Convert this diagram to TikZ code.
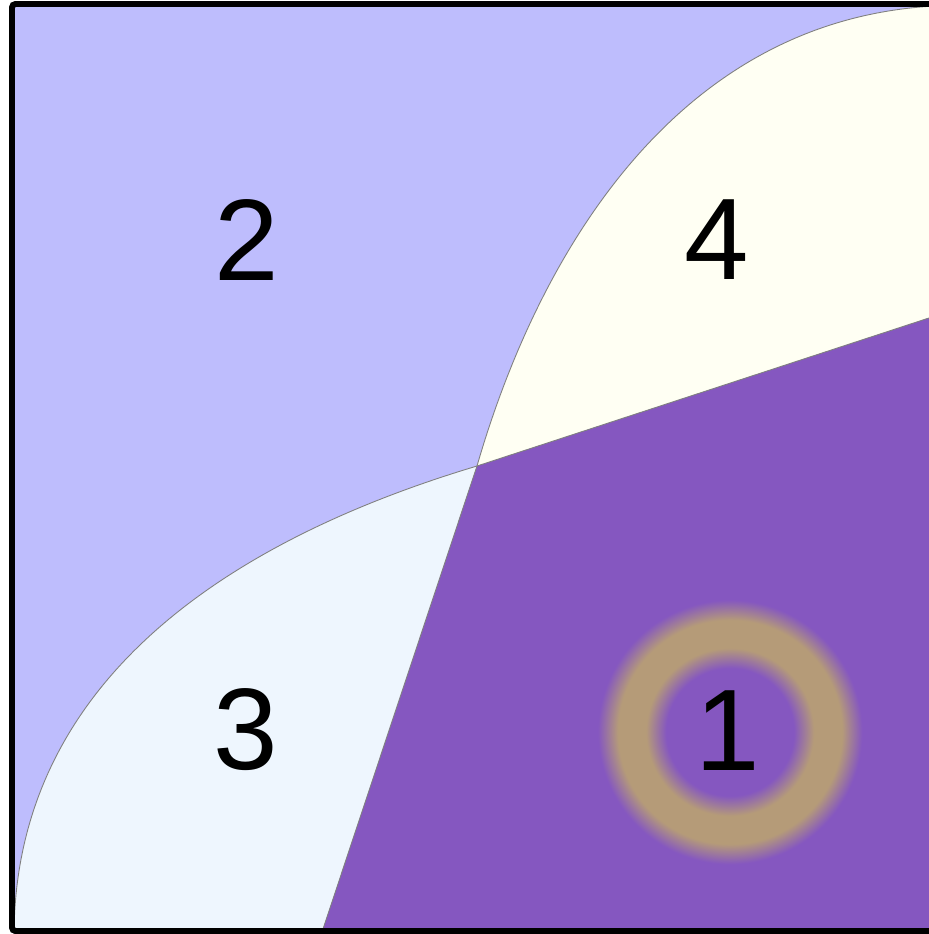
\documentclass[tikz,border=0pt]{standalone}
\usepackage{fontspec}
\setmainfont{Liberation Sans}
\definecolor{lavender}{RGB}{190,189,253}
\definecolor{cream}{RGB}{255,255,243}
\definecolor{icy}{RGB}{238,246,254}
\definecolor{grape}{RGB}{133,87,192}
\definecolor{sand}{RGB}{181,155,120}
\pgfdeclareradialshading{glowring}{\pgfpoint{0bp}{0bp}}{color(0bp)=(grape); color(11.4bp)=(grape); color(15bp)=(sand); color(20bp)=(sand); color(23.6bp)=(grape); color(25bp)=(grape); color(50bp)=(grape)}
\tikzset{
    edge/.style={draw=black!50, line width=0.5pt},
    frame/.style={draw=black, line width=3.4pt, rounded corners=2pt},
    num/.style={inner sep=0pt, font=\fontsize{66}{66}\selectfont}
}
\begin{document}
\begin{tikzpicture}[x=0.02cm, y=-0.02cm]
    \useasboundingbox (0, 0) rectangle (929, 934);
    \clip (0, 0) rectangle (929, 934);
    \coordinate (X) at (477, 466);
    \fill[lavender] (12, 4) rectangle (940, 931);
    \fill[cream] (X) .. controls (535, 265) and (670, 20) .. (935, 6) -- (935, 316) -- cycle;
    \fill[icy] (X) .. controls (230, 540) and (15, 680) .. (14, 935) -- (321, 935) -- cycle;
    \fill[grape] (X) -- (935, 316) -- (935, 935) -- (321, 935) -- cycle;
    \shade[shading=glowring] (730, 732) circle (2.8cm);
    \draw[edge] (14, 935) .. controls (15, 680) and (230, 540) .. (X)
        .. controls (535, 265) and (670, 20) .. (935, 6);
    \draw[edge] (321, 935) -- (X) -- (935, 316);
    \node[num] (n2) at (247, 240) {2};
    \node[num] (n4) at (717, 240) {4};
    \node[num] (n3) at (246, 730) {3};
    \node[num] (n1) at (728, 731) {1};
    \draw[frame] (12, 4) rectangle (940, 931);
\end{tikzpicture}
\end{document}
